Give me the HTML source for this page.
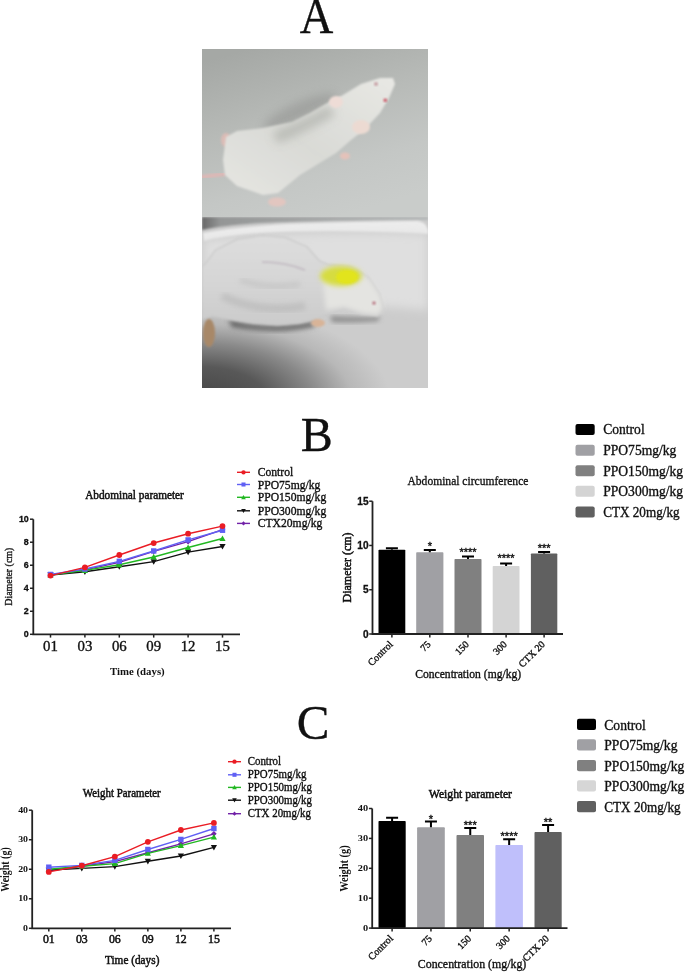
<!DOCTYPE html>
<html><head><meta charset="utf-8"><style>
html,body{margin:0;padding:0;background:#fff;width:685px;height:972px;overflow:hidden}
svg{display:block;will-change:transform}
.S{font-family:"Liberation Serif", serif;font-weight:normal}
.Sb{font-family:"Liberation Serif", serif;font-weight:bold}
.A{font-family:"Liberation Sans", sans-serif;font-weight:normal}
.Ab{font-family:"Liberation Sans", sans-serif;font-weight:bold}
text{fill:#111;stroke:#111;stroke-width:0.35px}
.Sb{stroke-width:0}
.Ab{stroke-width:0.3px}
.Sm{font-family:"Liberation Serif", serif;font-weight:normal;stroke-width:0.5px}
</style></head><body>
<svg width="685" height="972" viewBox="0 0 685 972">
<text class="S" transform="translate(316.6,32.7) scale(0.93,1)" font-size="50" text-anchor="middle" >A</text>
<text class="S" x="316.7" y="450.9" font-size="48" text-anchor="middle" >B</text>
<text class="S" x="313" y="738.6" font-size="49" text-anchor="middle" >C</text>
<defs>
<clipPath id="cpTop"><rect x="202" y="49" width="226" height="168"/></clipPath>
<clipPath id="cpBot"><rect x="202" y="217" width="226" height="171"/></clipPath>
<linearGradient id="gTopBg" x1="0.2" y1="0" x2="0.6" y2="1">
<stop offset="0" stop-color="#a5a8a5"/><stop offset="0.4" stop-color="#b7bab7"/><stop offset="0.75" stop-color="#c4c7c5"/><stop offset="1" stop-color="#c9ccca"/>
</linearGradient>
<radialGradient id="gFloor" gradientUnits="userSpaceOnUse" cx="200" cy="400" r="190" gradientTransform="translate(200 400) scale(1 0.5) translate(-200 -400)">
<stop offset="0" stop-color="#444444"/><stop offset="0.35" stop-color="#585858"/><stop offset="0.6" stop-color="#8a8a8a"/><stop offset="0.8" stop-color="#b8b8b8"/><stop offset="1" stop-color="#cccccc"/>
</radialGradient>
<linearGradient id="gWall" x1="0" y1="0" x2="1" y2="0">
<stop offset="0" stop-color="#686868"/><stop offset="0.08" stop-color="#949696"/><stop offset="0.5" stop-color="#a4a6a6"/><stop offset="1" stop-color="#b4b8b8"/>
</linearGradient>
<linearGradient id="gBody1" x1="0" y1="1" x2="1" y2="0">
<stop offset="0" stop-color="#e6e6e2"/><stop offset="0.45" stop-color="#d9dad6"/><stop offset="1" stop-color="#e8e8e4"/>
</linearGradient>
<linearGradient id="gBody2" x1="0" y1="0" x2="0" y2="1">
<stop offset="0" stop-color="#dddddd"/><stop offset="0.5" stop-color="#d6d6d6"/><stop offset="1" stop-color="#cbcbcb"/>
</linearGradient>
<filter id="bl1" x="-20%" y="-20%" width="140%" height="140%"><feGaussianBlur stdDeviation="0.8"/></filter>
<filter id="bl2" x="-30%" y="-30%" width="160%" height="160%"><feGaussianBlur stdDeviation="2.5"/></filter>
<filter id="bl4" x="-50%" y="-50%" width="200%" height="200%"><feGaussianBlur stdDeviation="5"/></filter>
</defs>
<g clip-path="url(#cpTop)">
<rect x="202" y="49" width="226" height="168" fill="url(#gTopBg)"/>
<ellipse cx="300" cy="112" rx="40" ry="10" transform="rotate(-24 300 112)" fill="#9c9e9b" filter="url(#bl4)" opacity="0.8"/>
<path d="M202 177 L224 174" stroke="#dcb8b6" stroke-width="4" stroke-linecap="round" filter="url(#bl1)"/>
<ellipse cx="226" cy="140" rx="5" ry="7" fill="#dcbcb6" filter="url(#bl1)"/>
<ellipse cx="277" cy="202" rx="9" ry="4.5" fill="#e2c6c0" filter="url(#bl1)"/>
<path d="M226 137 L237 131 L263 128 L292 122 L310 113 L329 102 L343 95 L361 84 L380 78 L393 78 L395 84 L389 98 L380 113 L365 129 L351 140 L336 153 L318 164 L300 175 L278 193 L263 195 L237 186 L225 175 L223 160 Z" fill="url(#gBody1)" filter="url(#bl1)"/>
<path d="M275 138 C295 130 312 122 332 110" stroke="#b4b6b0" stroke-width="12" fill="none" filter="url(#bl4)" opacity="0.8"/>
<ellipse cx="336" cy="102" rx="7" ry="6" fill="#eedcd6" filter="url(#bl1)"/>
<ellipse cx="361" cy="127" rx="9" ry="7" fill="#ecdad2" filter="url(#bl1)"/>
<ellipse cx="345" cy="156" rx="5" ry="3.5" fill="#e4c2ba" filter="url(#bl1)"/>
<circle cx="385.3" cy="100.2" r="1.8" fill="#c85060" filter="url(#bl1)"/>
<circle cx="376" cy="84" r="1.8" fill="#c09098" filter="url(#bl1)"/>
</g>
<g clip-path="url(#cpBot)">
<rect x="202" y="217" width="226" height="171" fill="url(#gFloor)"/>
<path d="M202 217 H428 V220 Q330 220 260 223 Q220 226 202 230 Z" fill="url(#gWall)" filter="url(#bl1)"/>
<path d="M203 233 Q240 226 300 223.5 Q380 221 418 221 Q426 222 428 230 L428 234 Q330 229 260 233 Q225 236 204 241 Z" fill="#ececec" filter="url(#bl1)"/>
<path d="M204 240 Q300 230 428 234 L428 310 Q320 300 204 300 Z" fill="#dfdfdf" filter="url(#bl4)"/>
<path d="M228 320 Q270 331 312 322 L316 326 Q280 335 232 327 Z" fill="#5e5e5e" filter="url(#bl2)"/>
<path d="M330 316 Q360 318 380 316 L378 321 Q350 323 332 322 Z" fill="#8a8a8a" filter="url(#bl2)"/>
<path d="M204.6 264.7 L215.5 250 L237.4 239.2 L263 235.5 L285 237.4 L306.8 246.5 L319.6 261 L328.7 264.7 L350.6 266.6 L368.8 277.5 L379.8 294 L383.4 308.5 L378 315.8 L361.5 314 L343.3 308.5 L328.7 314 L314 319.5 L299.5 323 L277.6 325 L252 323 L230 319.5 L212 316 L202 319.5 L202 266 Z" fill="url(#gBody2)" stroke="#c8c8c8" stroke-width="1.2" filter="url(#bl1)"/>
<path d="M322 272 Q340 264 352 268 L369 279 L380 295 L383 308 L378 315 L362 313 L344 307 L326 310 Z" fill="#e4e4e1" filter="url(#bl2)"/>
<ellipse cx="341" cy="276" rx="21" ry="10" fill="#d6dc40" filter="url(#bl2)"/>
<ellipse cx="347" cy="277" rx="11" ry="7" fill="#e2e41a" filter="url(#bl1)"/>
<path d="M262 262 Q285 262 305 270" stroke="#a898a8" stroke-width="1.5" fill="none" filter="url(#bl1)" opacity="0.5"/>
<path d="M222 296 Q260 314 305 306" stroke="#b4b4b4" stroke-width="8" fill="none" filter="url(#bl2)" opacity="0.55"/>
<path d="M240 280 Q270 290 300 284" stroke="#bcbcbc" stroke-width="6" fill="none" filter="url(#bl2)" opacity="0.5"/>
<ellipse cx="209" cy="333" rx="6" ry="14" fill="#a88868" filter="url(#bl1)"/>
<ellipse cx="318" cy="323" rx="7" ry="4" fill="#d8b498" filter="url(#bl1)"/>
<circle cx="374" cy="303" r="1.6" fill="#b06070" filter="url(#bl1)"/>
</g>

<path d="M33.3 519.2V634.3H240" stroke="#222" stroke-width="1.8" fill="none"/>
<path d="M30 634.3H33.3" stroke="#222" stroke-width="1.5"/>
<text class="Ab" transform="translate(28.8,637.2) scale(1.08,1)" font-size="8.2" text-anchor="end" >0</text>
<path d="M30 611.28H33.3" stroke="#222" stroke-width="1.5"/>
<text class="Ab" transform="translate(28.8,614.18) scale(1.08,1)" font-size="8.2" text-anchor="end" >2</text>
<path d="M30 588.26H33.3" stroke="#222" stroke-width="1.5"/>
<text class="Ab" transform="translate(28.8,591.16) scale(1.08,1)" font-size="8.2" text-anchor="end" >4</text>
<path d="M30 565.24H33.3" stroke="#222" stroke-width="1.5"/>
<text class="Ab" transform="translate(28.8,568.14) scale(1.08,1)" font-size="8.2" text-anchor="end" >6</text>
<path d="M30 542.22H33.3" stroke="#222" stroke-width="1.5"/>
<text class="Ab" transform="translate(28.8,545.12) scale(1.08,1)" font-size="8.2" text-anchor="end" >8</text>
<path d="M30 519.2H33.3" stroke="#222" stroke-width="1.5"/>
<text class="Ab" transform="translate(28.8,522.1) scale(1.08,1)" font-size="8.2" text-anchor="end" >10</text>
<path d="M50.5 634.3V637.6" stroke="#222" stroke-width="1.5"/>
<text class="S" transform="translate(50.5,650.8) scale(1.06,1)" font-size="14" text-anchor="middle" >01</text>
<path d="M84.9 634.3V637.6" stroke="#222" stroke-width="1.5"/>
<text class="S" transform="translate(84.9,650.8) scale(1.06,1)" font-size="14" text-anchor="middle" >03</text>
<path d="M119.3 634.3V637.6" stroke="#222" stroke-width="1.5"/>
<text class="S" transform="translate(119.3,650.8) scale(1.06,1)" font-size="14" text-anchor="middle" >06</text>
<path d="M153.7 634.3V637.6" stroke="#222" stroke-width="1.5"/>
<text class="S" transform="translate(153.7,650.8) scale(1.06,1)" font-size="14" text-anchor="middle" >09</text>
<path d="M188.1 634.3V637.6" stroke="#222" stroke-width="1.5"/>
<text class="S" transform="translate(188.1,650.8) scale(1.06,1)" font-size="14" text-anchor="middle" >12</text>
<path d="M222.5 634.3V637.6" stroke="#222" stroke-width="1.5"/>
<text class="S" transform="translate(222.5,650.8) scale(1.06,1)" font-size="14" text-anchor="middle" >15</text>
<polyline points="50.5,575.02 84.9,569.84 119.3,562.36 153.7,551.43 188.1,541.64 222.5,529.56" fill="none" stroke="#7222a8" stroke-width="1.4"/>
<polygon points="50.5,572.22 53.3,575.02 50.5,577.82 47.7,575.02" fill="#7222a8"/>
<polygon points="84.9,567.04 87.7,569.84 84.9,572.64 82.1,569.84" fill="#7222a8"/>
<polygon points="119.3,559.56 122.1,562.36 119.3,565.16 116.5,562.36" fill="#7222a8"/>
<polygon points="153.7,548.63 156.5,551.43 153.7,554.23 150.9,551.43" fill="#7222a8"/>
<polygon points="188.1,538.84 190.9,541.64 188.1,544.44 185.3,541.64" fill="#7222a8"/>
<polygon points="222.5,526.76 225.3,529.56 222.5,532.36 219.7,529.56" fill="#7222a8"/>
<polyline points="50.5,575.02 84.9,571.8 119.3,566.74 153.7,561.67 188.1,552.12 222.5,546.48" fill="none" stroke="#111111" stroke-width="1.4"/>
<polygon points="50.5,578.12 53.6,572.54 47.4,572.54" fill="#111111"/>
<polygon points="84.9,574.9 88,569.32 81.8,569.32" fill="#111111"/>
<polygon points="119.3,569.84 122.4,564.26 116.2,564.26" fill="#111111"/>
<polygon points="153.7,564.77 156.8,559.19 150.6,559.19" fill="#111111"/>
<polygon points="188.1,555.22 191.2,549.64 185,549.64" fill="#111111"/>
<polygon points="222.5,549.58 225.6,544 219.4,544" fill="#111111"/>
<polyline points="50.5,575.02 84.9,570.42 119.3,564.78 153.7,556.95 188.1,547.51 222.5,538.54" fill="none" stroke="#22b822" stroke-width="1.4"/>
<polygon points="50.5,571.92 53.6,577.5 47.4,577.5" fill="#22b822"/>
<polygon points="84.9,567.32 88,572.9 81.8,572.9" fill="#22b822"/>
<polygon points="119.3,561.68 122.4,567.26 116.2,567.26" fill="#22b822"/>
<polygon points="153.7,553.85 156.8,559.43 150.6,559.43" fill="#22b822"/>
<polygon points="188.1,544.41 191.2,549.99 185,549.99" fill="#22b822"/>
<polygon points="222.5,535.44 225.6,541.02 219.4,541.02" fill="#22b822"/>
<polyline points="50.5,574.45 84.9,569.04 119.3,561.33 153.7,550.97 188.1,539.92 222.5,530.25" fill="none" stroke="#6060f4" stroke-width="1.4"/>
<rect x="47.8" y="571.75" width="5.4" height="5.4" fill="#6060f4"/>
<rect x="82.2" y="566.34" width="5.4" height="5.4" fill="#6060f4"/>
<rect x="116.6" y="558.63" width="5.4" height="5.4" fill="#6060f4"/>
<rect x="151" y="548.27" width="5.4" height="5.4" fill="#6060f4"/>
<rect x="185.4" y="537.22" width="5.4" height="5.4" fill="#6060f4"/>
<rect x="219.8" y="527.55" width="5.4" height="5.4" fill="#6060f4"/>
<polyline points="50.5,575.6 84.9,567.43 119.3,555 153.7,543.03 188.1,533.7 222.5,526.11" fill="none" stroke="#ea1c24" stroke-width="1.4"/>
<circle cx="50.5" cy="575.6" r="2.9" fill="#ea1c24"/>
<circle cx="84.9" cy="567.43" r="2.9" fill="#ea1c24"/>
<circle cx="119.3" cy="555" r="2.9" fill="#ea1c24"/>
<circle cx="153.7" cy="543.03" r="2.9" fill="#ea1c24"/>
<circle cx="188.1" cy="533.7" r="2.9" fill="#ea1c24"/>
<circle cx="222.5" cy="526.11" r="2.9" fill="#ea1c24"/>
<path d="M237 472.3H250" stroke="#ea1c24" stroke-width="1.4"/>
<circle cx="243.5" cy="472.3" r="2.17" fill="#ea1c24"/>
<text class="S" transform="translate(257.7,476.3) scale(0.97,1)" font-size="12" text-anchor="start" >Control</text>
<path d="M237 484.5H250" stroke="#6060f4" stroke-width="1.4"/>
<rect x="241.47" y="482.48" width="4.05" height="4.05" fill="#6060f4"/>
<text class="S" transform="translate(257.7,488.5) scale(0.97,1)" font-size="12" text-anchor="start" >PPO75mg/kg</text>
<path d="M237 497.3H250" stroke="#22b822" stroke-width="1.4"/>
<polygon points="243.5,494.98 245.82,499.16 241.18,499.16" fill="#22b822"/>
<text class="S" transform="translate(257.7,501.3) scale(0.97,1)" font-size="12" text-anchor="start" >PPO150mg/kg</text>
<path d="M237 510.8H250" stroke="#111111" stroke-width="1.4"/>
<polygon points="243.5,513.12 245.82,508.94 241.18,508.94" fill="#111111"/>
<text class="S" transform="translate(257.7,514.8) scale(0.97,1)" font-size="12" text-anchor="start" >PPO300mg/kg</text>
<path d="M237 523.4H250" stroke="#7222a8" stroke-width="1.4"/>
<polygon points="243.5,521.3 245.6,523.4 243.5,525.5 241.4,523.4" fill="#7222a8"/>
<text class="S" transform="translate(257.7,527.4) scale(0.97,1)" font-size="12" text-anchor="start" >CTX20mg/kg</text>
<text class="Sm" x="85.2" y="498.6" font-size="11.5" text-anchor="start" textLength="98.7" lengthAdjust="spacingAndGlyphs" >Abdominal parameter</text>
<text class="Sb" x="110" y="675.2" font-size="11" text-anchor="start" textLength="54.7" lengthAdjust="spacingAndGlyphs" >Time (days)</text>
<g transform="translate(12,576.7) rotate(-90)"><text class="S" x="0" y="0" font-size="11.3" text-anchor="middle" textLength="58" lengthAdjust="spacingAndGlyphs" >Diameter (cm)</text></g>
<path d="M32.2 810.2V928.3H231" stroke="#222" stroke-width="1.8" fill="none"/>
<path d="M28.9 928.3H32.2" stroke="#222" stroke-width="1.5"/>
<text class="Sb" transform="translate(28,930.9) scale(1.3,1)" font-size="7.6" text-anchor="end" >0</text>
<path d="M28.9 898.77H32.2" stroke="#222" stroke-width="1.5"/>
<text class="Sb" transform="translate(28,901.38) scale(1.3,1)" font-size="7.6" text-anchor="end" >10</text>
<path d="M28.9 869.25H32.2" stroke="#222" stroke-width="1.5"/>
<text class="Sb" transform="translate(28,871.85) scale(1.3,1)" font-size="7.6" text-anchor="end" >20</text>
<path d="M28.9 839.73H32.2" stroke="#222" stroke-width="1.5"/>
<text class="Sb" transform="translate(28,842.33) scale(1.3,1)" font-size="7.6" text-anchor="end" >30</text>
<path d="M28.9 810.2H32.2" stroke="#222" stroke-width="1.5"/>
<text class="Sb" transform="translate(28,812.8) scale(1.3,1)" font-size="7.6" text-anchor="end" >40</text>
<path d="M48.8 928.3V931.6" stroke="#222" stroke-width="1.5"/>
<text class="Sm" x="48.8" y="943" font-size="11.8" text-anchor="middle" >01</text>
<path d="M81.82 928.3V931.6" stroke="#222" stroke-width="1.5"/>
<text class="Sm" x="81.82" y="943" font-size="11.8" text-anchor="middle" >03</text>
<path d="M114.84 928.3V931.6" stroke="#222" stroke-width="1.5"/>
<text class="Sm" x="114.84" y="943" font-size="11.8" text-anchor="middle" >06</text>
<path d="M147.86 928.3V931.6" stroke="#222" stroke-width="1.5"/>
<text class="Sm" x="147.86" y="943" font-size="11.8" text-anchor="middle" >09</text>
<path d="M180.88 928.3V931.6" stroke="#222" stroke-width="1.5"/>
<text class="Sm" x="180.88" y="943" font-size="11.8" text-anchor="middle" >12</text>
<path d="M213.9 928.3V931.6" stroke="#222" stroke-width="1.5"/>
<text class="Sm" x="213.9" y="943" font-size="11.8" text-anchor="middle" >15</text>
<polyline points="48.8,870.73 81.82,866.3 114.84,861.57 147.86,852.72 180.88,843.86 213.9,833.82" fill="none" stroke="#7222a8" stroke-width="1.4"/>
<polygon points="48.8,867.93 51.6,870.73 48.8,873.53 46,870.73" fill="#7222a8"/>
<polygon points="81.82,863.5 84.62,866.3 81.82,869.1 79.02,866.3" fill="#7222a8"/>
<polygon points="114.84,858.77 117.64,861.57 114.84,864.37 112.04,861.57" fill="#7222a8"/>
<polygon points="147.86,849.92 150.66,852.72 147.86,855.52 145.06,852.72" fill="#7222a8"/>
<polygon points="180.88,841.06 183.68,843.86 180.88,846.66 178.08,843.86" fill="#7222a8"/>
<polygon points="213.9,831.02 216.7,833.82 213.9,836.62 211.1,833.82" fill="#7222a8"/>
<polyline points="48.8,870.14 81.82,868.36 114.84,866.59 147.86,861.28 180.88,855.96 213.9,847.4" fill="none" stroke="#111111" stroke-width="1.4"/>
<polygon points="48.8,873.24 51.9,867.66 45.7,867.66" fill="#111111"/>
<polygon points="81.82,871.46 84.92,865.88 78.72,865.88" fill="#111111"/>
<polygon points="114.84,869.69 117.94,864.11 111.74,864.11" fill="#111111"/>
<polygon points="147.86,864.38 150.96,858.8 144.76,858.8" fill="#111111"/>
<polygon points="180.88,859.06 183.98,853.48 177.78,853.48" fill="#111111"/>
<polygon points="213.9,850.5 217,844.92 210.8,844.92" fill="#111111"/>
<polyline points="48.8,869.25 81.82,866.3 114.84,863.64 147.86,853.31 180.88,845.63 213.9,837.07" fill="none" stroke="#22b822" stroke-width="1.4"/>
<polygon points="48.8,866.15 51.9,871.73 45.7,871.73" fill="#22b822"/>
<polygon points="81.82,863.2 84.92,868.78 78.72,868.78" fill="#22b822"/>
<polygon points="114.84,860.54 117.94,866.12 111.74,866.12" fill="#22b822"/>
<polygon points="147.86,850.21 150.96,855.79 144.76,855.79" fill="#22b822"/>
<polygon points="180.88,842.53 183.98,848.11 177.78,848.11" fill="#22b822"/>
<polygon points="213.9,833.97 217,839.55 210.8,839.55" fill="#22b822"/>
<polyline points="48.8,867.18 81.82,865.41 114.84,860.39 147.86,849.47 180.88,839.43 213.9,828.51" fill="none" stroke="#6060f4" stroke-width="1.4"/>
<rect x="46.1" y="864.48" width="5.4" height="5.4" fill="#6060f4"/>
<rect x="79.12" y="862.71" width="5.4" height="5.4" fill="#6060f4"/>
<rect x="112.14" y="857.69" width="5.4" height="5.4" fill="#6060f4"/>
<rect x="145.16" y="846.77" width="5.4" height="5.4" fill="#6060f4"/>
<rect x="178.18" y="836.73" width="5.4" height="5.4" fill="#6060f4"/>
<rect x="211.2" y="825.81" width="5.4" height="5.4" fill="#6060f4"/>
<polyline points="48.8,871.91 81.82,865.71 114.84,856.55 147.86,841.79 180.88,829.98 213.9,822.9" fill="none" stroke="#ea1c24" stroke-width="1.4"/>
<circle cx="48.8" cy="871.91" r="2.9" fill="#ea1c24"/>
<circle cx="81.82" cy="865.71" r="2.9" fill="#ea1c24"/>
<circle cx="114.84" cy="856.55" r="2.9" fill="#ea1c24"/>
<circle cx="147.86" cy="841.79" r="2.9" fill="#ea1c24"/>
<circle cx="180.88" cy="829.98" r="2.9" fill="#ea1c24"/>
<circle cx="213.9" cy="822.9" r="2.9" fill="#ea1c24"/>
<path d="M228 761.7H241" stroke="#ea1c24" stroke-width="1.4"/>
<circle cx="234.5" cy="761.7" r="2.17" fill="#ea1c24"/>
<text class="S" transform="translate(247.7,765) scale(0.94,1)" font-size="11.6" text-anchor="start" >Control</text>
<path d="M228 774.8H241" stroke="#6060f4" stroke-width="1.4"/>
<rect x="232.47" y="772.77" width="4.05" height="4.05" fill="#6060f4"/>
<text class="S" transform="translate(247.7,778.1) scale(0.94,1)" font-size="11.6" text-anchor="start" >PPO75mg/kg</text>
<path d="M228 787.4H241" stroke="#22b822" stroke-width="1.4"/>
<polygon points="234.5,785.07 236.82,789.26 232.18,789.26" fill="#22b822"/>
<text class="S" transform="translate(247.7,790.7) scale(0.94,1)" font-size="11.6" text-anchor="start" >PPO150mg/kg</text>
<path d="M228 800.2H241" stroke="#111111" stroke-width="1.4"/>
<polygon points="234.5,802.53 236.82,798.34 232.18,798.34" fill="#111111"/>
<text class="S" transform="translate(247.7,803.5) scale(0.94,1)" font-size="11.6" text-anchor="start" >PPO300mg/kg</text>
<path d="M228 813.7H241" stroke="#7222a8" stroke-width="1.4"/>
<polygon points="234.5,811.6 236.6,813.7 234.5,815.8 232.4,813.7" fill="#7222a8"/>
<text class="S" transform="translate(247.7,817) scale(0.94,1)" font-size="11.6" text-anchor="start" >CTX 20mg/kg</text>
<text class="Sm" x="82.8" y="797.4" font-size="12" text-anchor="start" textLength="77.9" lengthAdjust="spacingAndGlyphs" >Weight Parameter</text>
<text class="Sm" x="105" y="964" font-size="12" text-anchor="start" textLength="54.4" lengthAdjust="spacingAndGlyphs" >Time (days)</text>
<g transform="translate(9,869.5) rotate(-90)"><text class="Sb" x="0" y="0" font-size="11.8" text-anchor="middle" textLength="44.4" lengthAdjust="spacingAndGlyphs" >Weight (g)</text></g>
<rect x="378.5" y="549.63" width="26.8" height="84.37" fill="#000000" rx="0.8"/>
<path d="M391.9 549.63V548.2M385.9 548.2H397.9" stroke="#000" stroke-width="2"/>
<rect x="416.2" y="552.28" width="27.2" height="81.72" fill="#a0a0a4" rx="0.8"/>
<path d="M429.8 552.28V550.1M423.8 550.1H435.8" stroke="#000" stroke-width="2"/>
<text class="A" x="429.8" y="550.2" font-size="11" text-anchor="middle" fill="#222">*</text>
<rect x="454.5" y="558.92" width="27" height="75.08" fill="#808080" rx="0.8"/>
<path d="M468 558.92V556.4M462 556.4H474" stroke="#000" stroke-width="2"/>
<text class="A" x="468" y="556" font-size="11" text-anchor="middle" fill="#222">****</text>
<rect x="492.7" y="565.92" width="26.8" height="68.08" fill="#d4d4d4" rx="0.8"/>
<path d="M506.1 565.92V563.4M500.1 563.4H512.1" stroke="#000" stroke-width="2"/>
<text class="A" x="506.1" y="561.8" font-size="11" text-anchor="middle" fill="#222">****</text>
<rect x="530.9" y="553.43" width="26.4" height="80.57" fill="#606060" rx="0.8"/>
<path d="M544.1 553.43V551.9M538.1 551.9H550.1" stroke="#000" stroke-width="2"/>
<text class="A" x="544.1" y="552.2" font-size="11" text-anchor="middle" fill="#222">***</text>
<path d="M372.5 501.2V634H563" stroke="#222" stroke-width="1.8" fill="none"/>
<path d="M369.2 634H372.5" stroke="#222" stroke-width="1.5"/>
<text class="Ab" transform="translate(368.6,637.6) scale(1.01,1)" font-size="10" text-anchor="end" >0</text>
<path d="M369.2 589.73H372.5" stroke="#222" stroke-width="1.5"/>
<text class="Ab" transform="translate(368.6,593.33) scale(1.01,1)" font-size="10" text-anchor="end" >5</text>
<path d="M369.2 545.47H372.5" stroke="#222" stroke-width="1.5"/>
<text class="Ab" transform="translate(368.6,549.07) scale(1.01,1)" font-size="10" text-anchor="end" >10</text>
<path d="M369.2 501.2H372.5" stroke="#222" stroke-width="1.5"/>
<text class="Ab" transform="translate(368.6,504.8) scale(1.01,1)" font-size="10" text-anchor="end" >15</text>
<path d="M391.9 634V637.5" stroke="#222" stroke-width="1.5"/>
<g transform="translate(393.4,645) rotate(-45)"><text class="S" x="0" y="0" font-size="10" text-anchor="end" >Control</text></g>
<path d="M429.8 634V637.5" stroke="#222" stroke-width="1.5"/>
<g transform="translate(431.3,645) rotate(-45)"><text class="S" x="0" y="0" font-size="10" text-anchor="end" >75</text></g>
<path d="M468 634V637.5" stroke="#222" stroke-width="1.5"/>
<g transform="translate(469.5,645) rotate(-45)"><text class="S" x="0" y="0" font-size="10" text-anchor="end" >150</text></g>
<path d="M506.1 634V637.5" stroke="#222" stroke-width="1.5"/>
<g transform="translate(507.6,645) rotate(-45)"><text class="S" x="0" y="0" font-size="10" text-anchor="end" >300</text></g>
<path d="M544.1 634V637.5" stroke="#222" stroke-width="1.5"/>
<g transform="translate(545.6,645) rotate(-45)"><text class="S" x="0" y="0" font-size="10" text-anchor="end" >CTX 20</text></g>
<text class="S" x="407.5" y="485" font-size="13.5" text-anchor="start" textLength="120.9" lengthAdjust="spacingAndGlyphs" >Abdominal circumference</text>
<text class="S" x="415.2" y="677.6" font-size="12" text-anchor="start" textLength="106" lengthAdjust="spacingAndGlyphs" >Concentration (mg/kg)</text>
<g transform="translate(351.3,567.4) rotate(-90)"><text class="Sm" x="0" y="0" font-size="13.2" text-anchor="middle" textLength="70" lengthAdjust="spacingAndGlyphs" >Diameter (cm)</text></g>
<rect x="575.5" y="424" width="19.2" height="11" rx="2" fill="#000000"/>
<text class="S" transform="translate(603.2,434.4) scale(0.97,1)" font-size="14" text-anchor="start" >Control</text>
<rect x="575.5" y="444.7" width="19.2" height="11" rx="2" fill="#a0a0a4"/>
<text class="S" transform="translate(603.2,455.1) scale(0.97,1)" font-size="14" text-anchor="start" >PPO75mg/kg</text>
<rect x="575.5" y="465.3" width="19.2" height="11" rx="2" fill="#808080"/>
<text class="S" transform="translate(603.2,475.7) scale(0.97,1)" font-size="14" text-anchor="start" >PPO150mg/kg</text>
<rect x="575.5" y="485.7" width="19.2" height="11" rx="2" fill="#d4d4d4"/>
<text class="S" transform="translate(603.2,496.1) scale(0.97,1)" font-size="14" text-anchor="start" >PPO300mg/kg</text>
<rect x="575.5" y="506.4" width="19.2" height="11" rx="2" fill="#606060"/>
<text class="S" transform="translate(603.2,516.8) scale(0.94,1)" font-size="14" text-anchor="start" >CTX 20mg/kg</text>
<rect x="378.5" y="821.06" width="27.2" height="107.04" fill="#000000" rx="0.8"/>
<path d="M392.1 821.06V817.8M386.1 817.8H398.1" stroke="#000" stroke-width="2"/>
<rect x="417.1" y="827.34" width="27.7" height="100.76" fill="#a0a0a4" rx="0.8"/>
<path d="M430.95 827.34V821.6M424.95 821.6H436.95" stroke="#000" stroke-width="2"/>
<text class="A" x="430.95" y="822.8" font-size="11" text-anchor="middle" fill="#222">*</text>
<rect x="456.5" y="835.11" width="27.5" height="92.99" fill="#808080" rx="0.8"/>
<path d="M470.25 835.11V828.1M464.25 828.1H476.25" stroke="#000" stroke-width="2"/>
<text class="A" x="470.25" y="828.7" font-size="11" text-anchor="middle" fill="#222">***</text>
<rect x="495.4" y="844.98" width="27.5" height="83.12" fill="#bfbffb" rx="0.8"/>
<path d="M509.15 844.98V839.3M503.15 839.3H515.15" stroke="#000" stroke-width="2"/>
<text class="A" x="509.15" y="840.4" font-size="11" text-anchor="middle" fill="#222">****</text>
<rect x="534.5" y="832.12" width="27.2" height="95.98" fill="#606060" rx="0.8"/>
<path d="M548.1 832.12V825M542.1 825H554.1" stroke="#000" stroke-width="2"/>
<text class="A" x="548.1" y="825.8" font-size="11" text-anchor="middle" fill="#222">**</text>
<path d="M372.2 808.5V928.1H567.5" stroke="#222" stroke-width="1.8" fill="none"/>
<path d="M368.9 928.1H372.2" stroke="#222" stroke-width="1.5"/>
<text class="Sb" transform="translate(368.2,930.7) scale(1.36,1)" font-size="7.6" text-anchor="end" >0</text>
<path d="M368.9 898.2H372.2" stroke="#222" stroke-width="1.5"/>
<text class="Sb" transform="translate(368.2,900.8) scale(1.36,1)" font-size="7.6" text-anchor="end" >10</text>
<path d="M368.9 868.3H372.2" stroke="#222" stroke-width="1.5"/>
<text class="Sb" transform="translate(368.2,870.9) scale(1.36,1)" font-size="7.6" text-anchor="end" >20</text>
<path d="M368.9 838.4H372.2" stroke="#222" stroke-width="1.5"/>
<text class="Sb" transform="translate(368.2,841) scale(1.36,1)" font-size="7.6" text-anchor="end" >30</text>
<path d="M368.9 808.5H372.2" stroke="#222" stroke-width="1.5"/>
<text class="Sb" transform="translate(368.2,811.1) scale(1.36,1)" font-size="7.6" text-anchor="end" >40</text>
<path d="M392.1 928.1V931.6" stroke="#222" stroke-width="1.5"/>
<g transform="translate(393.6,939.1) rotate(-45)"><text class="S" x="0" y="0" font-size="10" text-anchor="end" >Control</text></g>
<path d="M430.95 928.1V931.6" stroke="#222" stroke-width="1.5"/>
<g transform="translate(432.45,939.1) rotate(-45)"><text class="S" x="0" y="0" font-size="10" text-anchor="end" >75</text></g>
<path d="M470.25 928.1V931.6" stroke="#222" stroke-width="1.5"/>
<g transform="translate(471.75,939.1) rotate(-45)"><text class="S" x="0" y="0" font-size="10" text-anchor="end" >150</text></g>
<path d="M509.15 928.1V931.6" stroke="#222" stroke-width="1.5"/>
<g transform="translate(510.65,939.1) rotate(-45)"><text class="S" x="0" y="0" font-size="10" text-anchor="end" >300</text></g>
<path d="M548.1 928.1V931.6" stroke="#222" stroke-width="1.5"/>
<g transform="translate(549.6,939.1) rotate(-45)"><text class="S" x="0" y="0" font-size="10" text-anchor="end" >CTX 20</text></g>
<text class="Sm" x="428.8" y="798.2" font-size="11.8" text-anchor="start" textLength="83.2" lengthAdjust="spacingAndGlyphs" >Weight parameter</text>
<text class="S" x="417.8" y="968" font-size="12" text-anchor="start" textLength="108.5" lengthAdjust="spacingAndGlyphs" >Concentration (mg/kg)</text>
<g transform="translate(348.3,868.5) rotate(-90)"><text class="Sb" x="0" y="0" font-size="12.4" text-anchor="middle" textLength="46.5" lengthAdjust="spacingAndGlyphs" >Weight (g)</text></g>
<rect x="577" y="718.8" width="19" height="11.3" rx="2" fill="#000000"/>
<text class="S" transform="translate(604.3,729.5) scale(0.97,1)" font-size="14" text-anchor="start" >Control</text>
<rect x="577" y="739.2" width="19" height="11.3" rx="2" fill="#a0a0a4"/>
<text class="S" transform="translate(604.3,749.9) scale(0.97,1)" font-size="14" text-anchor="start" >PPO75mg/kg</text>
<rect x="577" y="759.9" width="19" height="11.3" rx="2" fill="#808080"/>
<text class="S" transform="translate(604.3,770.6) scale(0.97,1)" font-size="14" text-anchor="start" >PPO150mg/kg</text>
<rect x="577" y="780.3" width="19" height="11.3" rx="2" fill="#d6d6d6"/>
<text class="S" transform="translate(604.3,791) scale(0.97,1)" font-size="14" text-anchor="start" >PPO300mg/kg</text>
<rect x="577" y="800.9" width="19" height="11.3" rx="2" fill="#606060"/>
<text class="S" transform="translate(604.3,811.6) scale(0.94,1)" font-size="14" text-anchor="start" >CTX 20mg/kg</text>
</svg>
</body></html>
